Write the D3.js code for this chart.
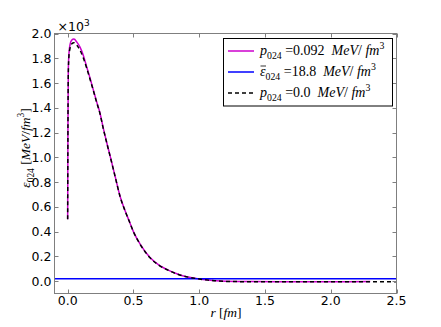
<!DOCTYPE html>
<html>
<head>
<meta charset="utf-8">
<script src="https://cdn.jsdelivr.net/npm/d3@7"></script>
<style>
  html, body { margin: 0; padding: 0; background: #fff; }
  svg { display: block; }
  .tick-label { font-family: "DejaVu Sans", sans-serif; font-size: 12.5px; fill: #000; }
  .math { font-family: "Liberation Serif", "DejaVu Serif", serif; fill: #000; }
</style>
</head>
<body>
<script>
const W = 441;
const H = 327;

// radius r [fm]
const rMain = [0.000, 0.002, 0.005, 0.010, 0.018, 0.030, 0.048, 0.070, 0.094, 0.120,
  0.145, 0.170, 0.195, 0.220, 0.246, 0.270, 0.297, 0.330, 0.360, 0.400, 0.436, 0.470,
  0.500, 0.550, 0.626, 0.700, 0.753, 0.820, 0.880, 0.950, 1.000, 1.070, 1.130, 1.200,
  1.300, 1.400, 1.600, 1.800, 2.000, 2.300];
// p_024 = 0.092 (x10^3 MeV/fm^3)
const epsP = [0.50, 1.20, 1.70, 1.84, 1.91, 1.945, 1.955, 1.93, 1.89, 1.82,
  1.73, 1.64, 1.545, 1.45, 1.356, 1.24, 1.12, 0.98, 0.85, 0.68, 0.57, 0.48,
  0.40, 0.30, 0.19, 0.125, 0.095, 0.063, 0.042, 0.027, 0.018, 0.009, 0.003, -0.001,
  -0.003, -0.004, -0.005, -0.005, -0.005, -0.004];
// p_024 = 0.0 (dashed), runs to the right edge
const rZero = rMain.concat([2.500]);
const epsZero = [0.50, 1.18, 1.68, 1.82, 1.88, 1.915, 1.925, 1.905, 1.865, 1.80,
  1.72, 1.63, 1.54, 1.445, 1.352, 1.236, 1.117, 0.978, 0.848, 0.678, 0.569, 0.479,
  0.399, 0.299, 0.189, 0.124, 0.094, 0.062, 0.041, 0.026, 0.017, 0.008, 0.002, -0.002,
  -0.004, -0.005, -0.006, -0.006, -0.006, -0.005, -0.005];
// mean energy density 18.8 MeV/fm^3
const epsMean = 0.0188;

const xTicks = [0.0, 0.5, 1.0, 1.5, 2.0, 2.5];
const yTicks = [0.0, 0.2, 0.4, 0.6, 0.8, 1.0, 1.2, 1.4, 1.6, 1.8, 2.0];

const M = {left: 54.5, right: 396.5, top: 33.5, bottom: 293.5};

const x = d3.scaleLinear().domain([-0.1, 2.5]).range([M.left, M.right]);
const y = d3.scaleLinear().domain([-0.1, 2.0]).range([M.bottom, M.top]);

const svg = d3.select("body").append("svg")
  .attr("width", W).attr("height", H)
  .attr("viewBox", `0 0 ${W} ${H}`);

// mathtext-ish helper: parts are [text, style] with style "i" italic, "r" roman, "sub", "sup"
function mathText(textSel, parts, size) {
  let shift = 0;
  for (const [t, s] of parts) {
    const small = s === "sub" || s === "sup";
    const target = s === "sub" ? size * 0.28 : s === "sup" ? -size * 0.42 : 0;
    textSel.append("tspan")
      .attr("dy", target - shift)
      .attr("font-size", small ? size * 0.7 : size)
      .attr("font-style", s === "i" ? "italic" : "normal")
      .style("white-space", "pre")
      .text(t);
    shift = target;
  }
}

const plot = svg.append("g");

const line = d3.line()
  .x((d) => x(d[0]))
  .y((d) => y(d[1]))
  .curve(d3.curveMonotoneX);

svg.append("clipPath").attr("id", "clip")
  .append("rect")
  .attr("x", M.left).attr("y", M.top)
  .attr("width", M.right - M.left).attr("height", M.bottom - M.top);

const lines = plot.append("g").attr("clip-path", "url(#clip)");

lines.append("path")
  .datum(rMain.map((r, i) => [r, epsP[i]]))
  .attr("d", line)
  .attr("fill", "none")
  .attr("stroke", "#cc00cc")
  .attr("stroke-width", 1.5);

lines.append("line")
  .attr("x1", x(-0.1)).attr("x2", x(2.5))
  .attr("y1", y(epsMean)).attr("y2", y(epsMean))
  .attr("stroke", "#0000ff")
  .attr("stroke-width", 1.5);

lines.append("path")
  .datum(rZero.map((r, i) => [r, epsZero[i]]))
  .attr("d", line)
  .attr("fill", "none")
  .attr("stroke", "#000")
  .attr("stroke-width", 1.5)
  .attr("stroke-dasharray", "4,3");

// ── frame and ticks ─────────────────────────────────────────────
const frameColor = "#7f7f7f";
plot.append("rect")
  .attr("x", M.left).attr("y", M.top)
  .attr("width", M.right - M.left).attr("height", M.bottom - M.top)
  .attr("fill", "none")
  .attr("stroke", frameColor)
  .attr("stroke-width", 1);

const tickLen = 4;
const ticks = plot.append("g").attr("stroke", frameColor).attr("stroke-width", 1);
for (const t of xTicks) {
  const px = Math.round(x(t)) + 0.5;
  ticks.append("line").attr("x1", px).attr("x2", px).attr("y1", M.bottom).attr("y2", M.bottom - tickLen);
  ticks.append("line").attr("x1", px).attr("x2", px).attr("y1", M.top).attr("y2", M.top + tickLen);
  svg.append("text").attr("class", "tick-label")
    .attr("x", x(t)).attr("y", M.bottom + 11.5)
    .attr("text-anchor", "middle")
    .text(d3.format(".1f")(t));
}
for (const t of yTicks) {
  const py = Math.round(y(t)) + 0.5;
  ticks.append("line").attr("x1", M.left).attr("x2", M.left + tickLen).attr("y1", py).attr("y2", py);
  ticks.append("line").attr("x1", M.right).attr("x2", M.right - tickLen).attr("y1", py).attr("y2", py);
  svg.append("text").attr("class", "tick-label")
    .attr("x", M.left - 3).attr("y", y(t) + 4.5)
    .attr("text-anchor", "end")
    .text(d3.format(".1f")(t));
}

// offset text ×10^3
const offset = svg.append("text").attr("class", "tick-label")
  .attr("x", M.left + 3).attr("y", M.top - 3);
offset.append("tspan").text("×10");
offset.append("tspan").attr("dy", -5).attr("font-size", 9).text("3");

// ── axis labels ─────────────────────────────────────────────────
const xl = svg.append("text").attr("class", "math")
  .attr("x", 226).attr("y", 317).attr("text-anchor", "middle");
mathText(xl, [["r", "i"], [" [", "r"], ["fm", "i"], ["]", "r"]], 13.5);

const yl = svg.append("text").attr("class", "math")
  .attr("transform", "translate(30,148) rotate(-90)")
  .attr("text-anchor", "middle");
mathText(yl, [["ε", "i"], ["024", "sub"], [" [", "r"], ["MeV", "i"], ["/", "r"], ["fm", "i"], ["3", "sup"], ["]", "r"]], 13.5);

// ── legend ──────────────────────────────────────────────────────
const legendItems = [
  {color: "#cc00cc", dash: null, sym: "p", bar: false, val: " =0.092"},
  {color: "#0000ff", dash: null, sym: "ε", bar: true, val: " =18.8"},
  {color: "#000", dash: "4,3", sym: "p", bar: false, val: " =0.0"},
];

const legend = svg.append("g");
legend.append("rect")
  .attr("x", 223.5).attr("y", 38.5)
  .attr("width", 169).attr("height", 67.5)
  .attr("fill", "#fff")
  .attr("stroke", "#000")
  .attr("stroke-width", 1);

legendItems.forEach((d, i) => {
  const ly = 51 + i * 21;
  legend.append("line")
    .attr("x1", 228).attr("x2", 254)
    .attr("y1", ly).attr("y2", ly)
    .attr("stroke", d.color)
    .attr("stroke-width", 1.5)
    .attr("stroke-dasharray", d.dash);
  const t = legend.append("text").attr("class", "math")
    .attr("x", 260).attr("y", ly + 4);
  mathText(t, [[d.sym, "i"], ["024", "sub"], [d.val, "r"], ["  MeV", "i"], ["/", "r"], [" fm", "i"], ["3", "sup"]], 14);
  if (d.bar) {
    legend.append("line")
      .attr("x1", 260.5).attr("x2", 266)
      .attr("y1", ly - 6).attr("y2", ly - 6)
      .attr("stroke", "#000").attr("stroke-width", 0.8);
  }
});
</script>
</body>
</html>
